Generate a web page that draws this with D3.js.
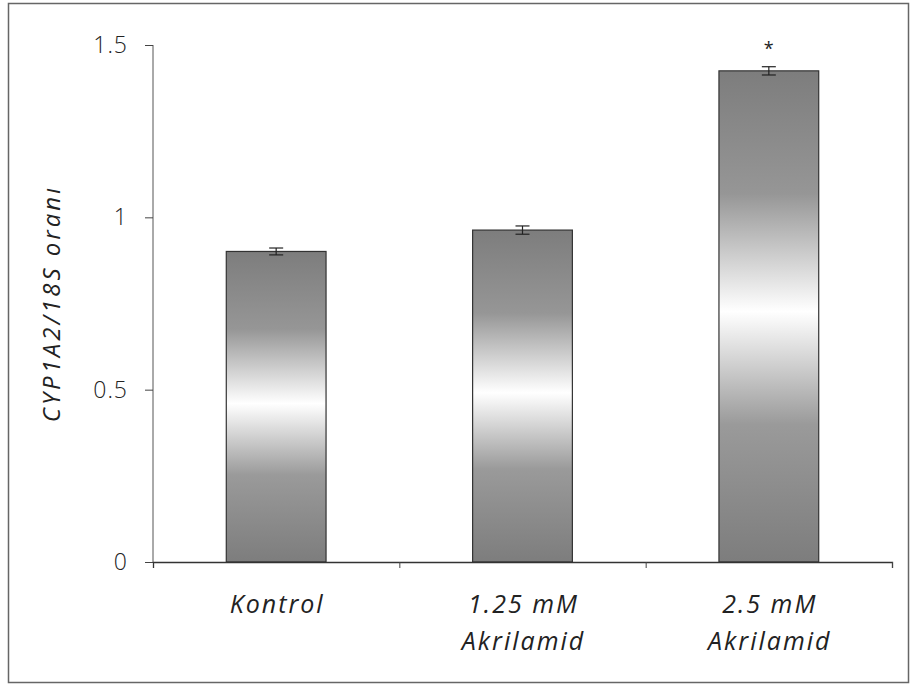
<!DOCTYPE html>
<html>
<head>
<meta charset="utf-8">
<script src="https://cdn.jsdelivr.net/npm/d3@7"></script>
<style>
	body { margin: 0; background: #fff; }
	text { font-family: "Open Sans", sans-serif; fill: #222; }
</style>
</head>
<body>
<div id="chart-area"></div>
<script>

// SVG Size
var width = 914,
	height = 686;

// data
let groups = ["Kontrol", "1.25 mM Akrilamid", "2.5 mM Akrilamid"];
let groupLines = [["Kontrol"], ["1.25 mM", "Akrilamid"], ["2.5 mM", "Akrilamid"]];
let means = [0.901, 0.963, 1.425];
let errors = [0.010, 0.012, 0.012];
let stars = ["", "", "*"];
let yTicks = [0, 0.5, 1, 1.5];
let yTickLabels = ["0", "0.5", "1", "1.5"];
let yLabel = "CYP1A2/18S oranı";

let data = groups.map(function(g, i){
	return {group: g, lines: groupLines[i], mean: means[i], err: errors[i], star: stars[i]};
});

let margin = {left: 153, right: 19, top: 45, bottom: 124};

let svg = d3.select("#chart-area")
	.append("svg")
	.attr("width", width)
	.attr("height", height);

// outer frame
svg.append("rect")
	.attr("x", 8.5)
	.attr("y", 3.5)
	.attr("width", 900)
	.attr("height", 679)
	.attr("fill", "none")
	.attr("stroke", "#666")
	.attr("stroke-width", 1.5);

let defs = svg.append("defs");
let grad = defs.append("linearGradient")
	.attr("id", "barGrad")
	.attr("x1", 0).attr("y1", 0)
	.attr("x2", 0).attr("y2", 1);
grad.append("stop").attr("offset", "0%").attr("stop-color", "#7d7d7d");
grad.append("stop").attr("offset", "25%").attr("stop-color", "#969696");
grad.append("stop").attr("offset", "49%").attr("stop-color", "#ffffff");
grad.append("stop").attr("offset", "72%").attr("stop-color", "#9a9a9a");
grad.append("stop").attr("offset", "100%").attr("stop-color", "#7d7d7d");

let x = d3.scaleBand()
	.domain(groups)
	.range([margin.left, width - margin.right - 3])
	.paddingInner(0.595)
	.paddingOuter(0.2975);

// boundaries between categories for the x tick marks
let xEdge = d3.scaleLinear()
	.domain([0, groups.length])
	.range([margin.left, width - margin.right - 3]);

let y = d3.scaleLinear()
	.domain([0, 1.5])
	.range([562, margin.top]);

// bars
svg.selectAll("rect.bar")
	.data(data)
	.enter()
	.append("rect")
	.attr("class", "bar")
	.attr("x", function(d){ return x(d.group); })
	.attr("y", function(d){ return y(d.mean); })
	.attr("width", x.bandwidth())
	.attr("height", function(d){ return y(0) - y(d.mean); })
	.attr("fill", "url(#barGrad)")
	.attr("stroke", "#333")
	.attr("stroke-width", 1.2);

// error bars
let capW = 14;
let eb = svg.selectAll("g.err")
	.data(data)
	.enter()
	.append("g")
	.attr("class", "err")
	.attr("stroke", "#222")
	.attr("stroke-width", 1.2);

eb.append("line")
	.attr("x1", function(d){ return x(d.group) + x.bandwidth()/2; })
	.attr("x2", function(d){ return x(d.group) + x.bandwidth()/2; })
	.attr("y1", function(d){ return y(d.mean + d.err); })
	.attr("y2", function(d){ return y(d.mean - d.err); });

eb.append("line")
	.attr("x1", function(d){ return x(d.group) + x.bandwidth()/2 - capW/2; })
	.attr("x2", function(d){ return x(d.group) + x.bandwidth()/2 + capW/2; })
	.attr("y1", function(d){ return y(d.mean + d.err); })
	.attr("y2", function(d){ return y(d.mean + d.err); });

eb.append("line")
	.attr("x1", function(d){ return x(d.group) + x.bandwidth()/2 - capW/2; })
	.attr("x2", function(d){ return x(d.group) + x.bandwidth()/2 + capW/2; })
	.attr("y1", function(d){ return y(d.mean - d.err); })
	.attr("y2", function(d){ return y(d.mean - d.err); });

// significance star
svg.selectAll("text.star")
	.data(data)
	.enter()
	.append("text")
	.attr("class", "star")
	.attr("x", function(d){ return x(d.group) + x.bandwidth()/2; })
	.attr("y", function(d){ return y(d.mean + d.err) - 12; })
	.attr("text-anchor", "middle")
	.style("font-size", "18px")
	.text(function(d){ return d.star; });

// y axis
let yAxis = d3.axisLeft(y)
	.tickValues(yTicks)
	.tickFormat(function(d, i){ return yTickLabels[i]; })
	.tickSize(8)
	.tickPadding(17);

let gy = svg.append("g")
	.attr("transform", "translate(" + margin.left + ",0)")
	.call(yAxis);
gy.select(".domain").attr("stroke", "#555").attr("d", "M0," + y(1.5) + "V" + y(0));
gy.selectAll(".tick line").attr("stroke", "#444");
gy.selectAll(".tick text")
	.style("font-size", "23px")
	.style("font-weight", 300)
	.style("letter-spacing", "1px")
	.attr("fill", "#222");

// x axis (ticks on category boundaries)
let xAxis = d3.axisBottom(xEdge)
	.tickValues(d3.range(1, groups.length + 1))
	.tickFormat("")
	.tickSize(6);

let gx = svg.append("g")
	.attr("transform", "translate(0," + y(0) + ")")
	.call(xAxis);
gx.select(".domain").attr("stroke", "#333").attr("stroke-width", 1.3);
gx.selectAll(".tick line").attr("stroke", "#444");

// category labels
let labels = svg.selectAll("text.cat")
	.data(data)
	.enter()
	.append("text")
	.attr("class", "cat")
	.attr("text-anchor", "middle")
	.attr("y", 613)
	.style("font-size", "25px")
	.style("font-style", "italic")
	.style("letter-spacing", "2px");

labels.selectAll("tspan")
	.data(function(d){ return d.lines.map(function(l){ return {line: l, cx: x(d.group) + x.bandwidth()/2 + 1}; }); })
	.enter()
	.append("tspan")
	.attr("x", function(d){ return d.cx; })
	.attr("dy", function(d, i){ return i === 0 ? 0 : 37; })
	.text(function(d){ return d.line; });

// y axis label
svg.append("text")
	.attr("transform", "translate(60," + ((y(0) + y(1.5)) / 2) + ") rotate(-90)")
	.attr("text-anchor", "middle")
	.style("font-size", "24px")
	.style("font-style", "italic")
	.style("letter-spacing", "3px")
	.text(yLabel);

</script>
</body>
</html>
